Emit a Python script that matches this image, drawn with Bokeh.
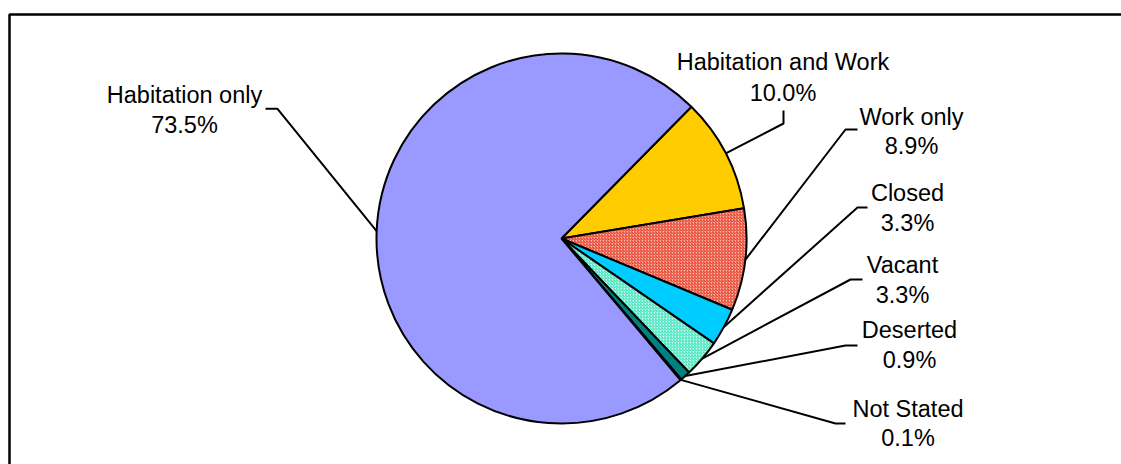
import math
from bokeh.plotting import figure
from bokeh.models import Range1d, ColumnDataSource
from bokeh.core.properties import value
from bokeh.embed import file_html
from bokeh.resources import INLINE

# ---- data ----
categories = ["Habitation and Work", "Work only", "Closed", "Vacant",
              "Deserted", "Not Stated", "Habitation only"]
percents = [10.0, 8.9, 3.3, 3.3, 0.9, 0.1, 73.5]
colors = ["#FFCC00", "#F6B8A8", "#00CCFF", "#C8FFE8", "#008080", "#3333AA", "#9999FF"]
hatches = [" ", "/", " ", "/", " ", " ", " "]
hatch_colors = ["#000000", "#E8321E", "#000000", "#33DDBB", "#000000", "#000000", "#000000"]

W, H = 1121, 464
p = figure(width=W, height=H, output_backend="svg", toolbar_location=None,
           x_range=Range1d(0, W), y_range=Range1d(0, H), min_border=0)
p.axis.visible = False
p.grid.visible = False
p.outline_line_color = None
p.background_fill_color = "white"
p.border_fill_color = "white"


def Y(img_y):
    return H - img_y


cx, cy, r = 561, Y(238), 185
start0 = 45.4  # degrees, first slice edge, going clockwise

# wedges (clockwise from start0)
starts, ends, mids = [], [], []
a = start0
for pct in percents:
    span = pct / 100 * 360
    starts.append(math.radians(a - span))
    ends.append(math.radians(a))
    mids.append(math.radians(a - span / 2))
    a -= span

src = ColumnDataSource(dict(start=starts, end=ends, color=colors, hatch=hatches,
                            hcolor=hatch_colors, cat=categories))
p.wedge(x=cx, y=cy, radius=r, start_angle="start", end_angle="end",
        direction="anticlock", fill_color="color", line_color="black", line_width=2,
        hatch_pattern="hatch", hatch_color="hcolor", hatch_scale=3, hatch_weight=1,
        source=src)

# labels: (center x, baseline line1, baseline line2, elbow pts)
label_pos = {
    "Habitation only": (184, 101.7, 131.7, [(265, 108.3), (277, 108.3)]),
    "Habitation and Work": (782.5, 68.3, 99.3, [(783, 110), (783, 123)]),
    "Work only": (911, 123.3, 152.7, [(857, 129), (845, 129)]),
    "Closed": (907, 199, 229.3, [(867, 207), (857, 207)]),
    "Vacant": (902, 271.7, 301.7, [(862, 279), (850, 279)]),
    "Deserted": (909, 336.7, 366.7, [(857, 345), (845, 345)]),
    "Not Stated": (907.5, 415, 444.3, [(845, 423), (835, 423)]),
}
text_shift = 7  # px, rendered baseline correction

tx, ty, tt = [], [], []
for cat, pct, m in zip(categories, percents, mids):
    lx, b1, b2, elbow = label_pos[cat]
    tx += [lx, lx]
    ty += [Y(b1 - text_shift), Y(b2 - text_shift)]
    tt += [cat, f"{pct:.1f}%"]
    xs = [e[0] for e in elbow] + [cx + r * math.cos(m)]
    ys = [Y(e[1]) for e in elbow] + [cy + r * math.sin(m)]
    p.line(xs, ys, line_color="black", line_width=2)

p.text(x=tx, y=ty, text=tt, text_align="center", text_baseline="alphabetic",
       text_font=value("Liberation Sans"), text_font_size="23.5px", text_color="black")

# chart area border (left and top visible)
p.line([9, 9, W + 10], [-10, Y(14), Y(14)], line_color="black", line_width=2.5)

open("out.html", "w").write(file_html(p, INLINE))
